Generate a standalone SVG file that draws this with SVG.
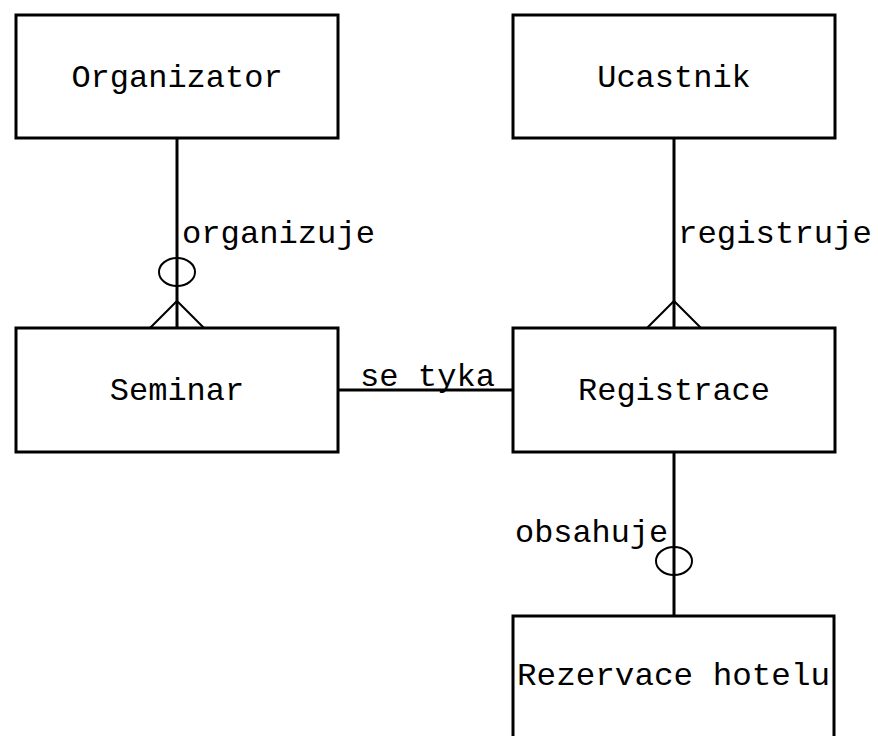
<svg xmlns="http://www.w3.org/2000/svg" width="878" height="736" viewBox="0 0 878 736">
<style>
.box{fill:#fff;stroke:#000;stroke-width:3}
.t{font-family:"Liberation Mono","DejaVu Sans Mono",monospace;font-size:32px;fill:#000}
.c{stroke:#000;stroke-width:3;fill:none}
.f{stroke:#000;stroke-width:2;fill:none}
</style>
<rect width="878" height="736" fill="#fff"/>
<g id="connectors">
<line class="c" x1="177" y1="138" x2="177" y2="328"/>
<ellipse class="f" cx="177" cy="272" rx="18" ry="14"/>
<path class="f" d="M150,328 L177,301 L204,328"/>
<text class="t" x="182" y="243" textLength="193" lengthAdjust="spacingAndGlyphs">organizuje</text>
<line class="c" x1="674" y1="138" x2="674" y2="328"/>
<path class="f" d="M647,328 L674,301 L701,328"/>
<text class="t" x="678" y="243" textLength="194" lengthAdjust="spacingAndGlyphs">registruje</text>
<line class="c" x1="338" y1="390" x2="513" y2="390"/>
<text class="t" x="360" y="386" textLength="135" lengthAdjust="spacingAndGlyphs">se tyka</text>
<line class="c" x1="674" y1="452" x2="674" y2="616"/>
<ellipse class="f" cx="674" cy="561" rx="18" ry="14"/>
<text class="t" x="515" y="542" textLength="153" lengthAdjust="spacingAndGlyphs">obsahuje</text>
</g>
<g id="organizator"><rect class="box" x="16" y="15" width="322" height="123"/><text class="t" x="177" y="87" text-anchor="middle">Organizator</text></g>
<g id="ucastnik"><rect class="box" x="513" y="15" width="322" height="123"/><text class="t" x="674" y="87" text-anchor="middle">Ucastnik</text></g>
<g id="seminar"><rect class="box" x="16" y="328" width="322" height="124"/><text class="t" x="177" y="400" text-anchor="middle">Seminar</text></g>
<g id="registrace"><rect class="box" x="513" y="328" width="322" height="124"/><text class="t" x="674" y="400" text-anchor="middle">Registrace</text></g>
<g id="rezervace"><rect class="box" x="513" y="616" width="321" height="140"/><text class="t" x="517" y="685" textLength="313" lengthAdjust="spacingAndGlyphs">Rezervace hotelu</text></g>
</svg>
